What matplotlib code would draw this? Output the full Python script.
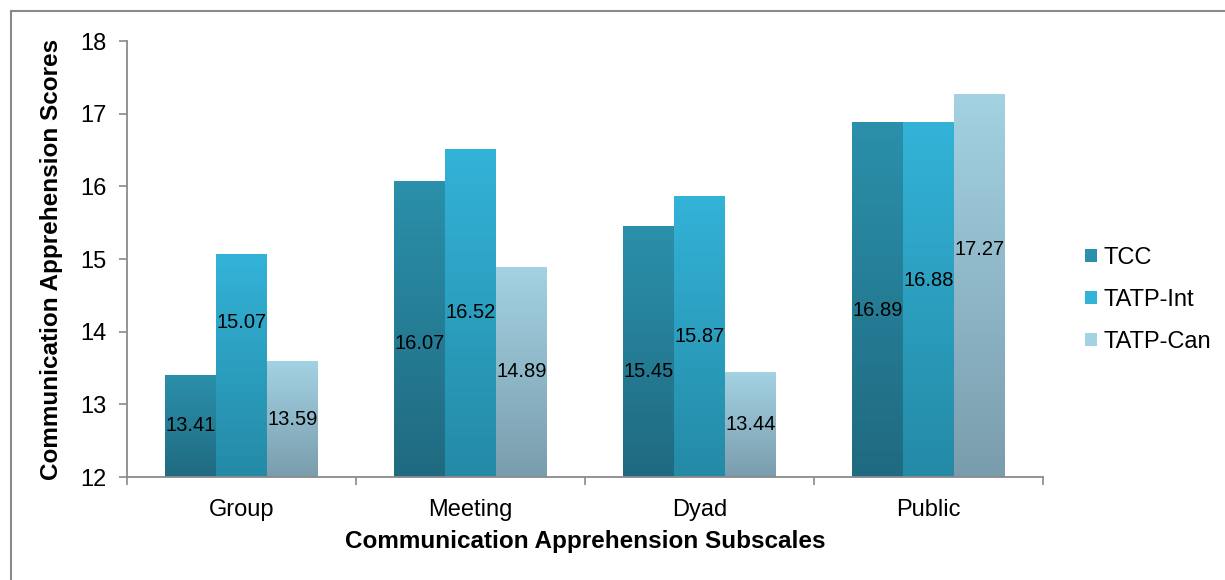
import numpy as np
import matplotlib
matplotlib.use("Agg")
from matplotlib import pyplot as plt
from matplotlib.patches import Rectangle, Patch
from matplotlib.colors import LinearSegmentedColormap

# data
categories = ["Group", "Meeting", "Dyad", "Public"]
series = ["TCC", "TATP-Int", "TATP-Can"]
tcc = [13.41, 16.07, 15.45, 16.89]
tatp_int = [15.07, 16.52, 15.87, 16.88]
tatp_can = [13.59, 14.89, 13.44, 17.27]
y_ticks = [12, 13, 14, 15, 16, 17, 18]

# label nudges (data units) so labels sit where the original put them
label_shift = [[0, -0.2, -0.27, -0.15],
               [0.585, 0, 0, 0.27],
               [0, 0, 0, 0.49]]

# top / bottom colour of each gradient
colors_top = ["#2B90AB", "#33B3D8", "#A3D2E3"]
colors_bot = ["#1F6A80", "#248AA6", "#7A9DAD"]

plt.rcParams['font.family'] = ['Liberation Sans', 'DejaVu Sans']

fig = plt.figure(figsize=(12.25, 5.8), dpi=100)
ax = fig.add_axes([127/1225, 1-477/580, (1043-127)/1225, (477-41)/580])

values = [tcc, tatp_int, tatp_can]
x = np.arange(len(categories))
w = 1/4.5
ymin = y_ticks[0]

for s in range(len(series)):
    cmap = LinearSegmentedColormap.from_list("g%d" % s, [colors_bot[s], colors_top[s]])
    grad = np.linspace(0, 1, 256).reshape(-1, 1)
    for i in range(len(categories)):
        xc = x[i] + (s-1)*w
        v = values[s][i]
        rect = Rectangle((xc-w/2, ymin), w, v-ymin, facecolor="none", edgecolor="none")
        ax.add_patch(rect)
        im = ax.imshow(grad, cmap=cmap, origin="lower", aspect="auto",
                       extent=[xc-w/2, xc+w/2, ymin, v], zorder=2)
        im.set_clip_path(rect)
        ax.text(xc, (ymin+v)/2 + label_shift[s][i], "%.2f" % v, ha="center", va="center",
                fontsize=14.5, color="black", zorder=3)

ax.set_xlim(-0.5, len(categories)-0.5)
ax.set_ylim(ymin, y_ticks[-1])
ax.set_yticks(y_ticks)
ax.set_xticks(x)
ax.set_xticklabels(categories)
ax.set_xticks(np.arange(len(categories)+1)-0.5, minor=True)
ax.tick_params(axis="x", which="major", length=0, pad=16, labelsize=17)
ax.tick_params(axis="x", which="minor", length=6, color="#8a8a8a", width=1.2)
ax.tick_params(axis="y", length=6, color="#8a8a8a", width=1.2, labelsize=17, pad=9)
for side in ["top", "right"]:
    ax.spines[side].set_visible(False)
for side in ["left", "bottom"]:
    ax.spines[side].set_color("#8a8a8a")
    ax.spines[side].set_linewidth(1.3)

ax.set_xlabel("Communication Apprehension Subscales", fontsize=17.5, fontweight="bold", labelpad=6)
ax.set_ylabel("Communication Apprehension Scores", fontsize=17.5, fontweight="bold", labelpad=12)

handles = [Patch(facecolor=colors_top[s], edgecolor="none") for s in range(len(series))]
fig.legend(handles, series, loc="center left", bbox_to_anchor=(1085/1225, 1-300/580),
           frameon=False, fontsize=17, handlelength=0.5, handleheight=0.5,
           handletextpad=0.3, labelspacing=0.85, borderpad=0, borderaxespad=0)

# figure border (left and top visible in the reference)
fig.add_artist(plt.Line2D([11/1225, 11/1225], [0, 1-11/580], color="#8a8a8a", lw=1.5))
fig.add_artist(plt.Line2D([11/1225, 1], [1-11/580, 1-11/580], color="#8a8a8a", lw=1.5))

fig.savefig("out.png", dpi=100)
